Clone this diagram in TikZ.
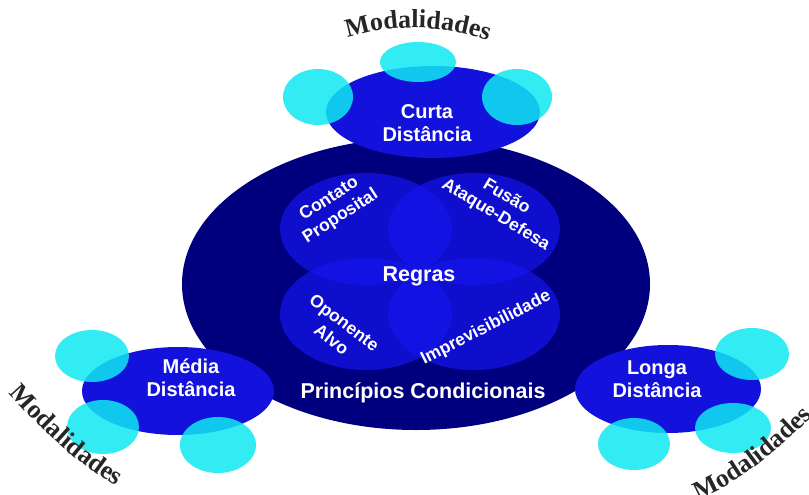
\documentclass[tikz,border=0pt]{standalone}
\usepackage{fontspec}
\newfontfamily\labfont{Liberation Sans}
\newfontfamily\modfont{Liberation Serif}
\usetikzlibrary{shapes.geometric,decorations.text}
\definecolor{navybig}{HTML}{00007E}
\definecolor{innerblue}{HTML}{1414EB}
\definecolor{midblue}{HTML}{1212DC}
\definecolor{cyanc}{HTML}{10E8F2}
\definecolor{modal}{HTML}{262626}
\tikzset{
  bigell/.style={ellipse, fill=navybig, inner sep=0pt},
  innerell/.style={ellipse, fill=innerblue, fill opacity=0.72, inner sep=0pt, minimum width=172pt, minimum height=112pt},
  midell/.style={ellipse, fill=midblue, inner sep=0pt},
  cyanell/.style={ellipse, fill=cyanc, fill opacity=0.85, inner sep=0pt},
  midlab/.style={text=white, font=\labfont\bfseries\fontsize{20}{23}\selectfont, align=center, inner sep=0pt},
  innerlab/.style={text=white, font=\labfont\bfseries\fontsize{17.5}{21}\selectfont, align=center, inner sep=0pt},
  biglab/.style={text=white, font=\labfont\bfseries\fontsize{21.5}{24}\selectfont, inner sep=0pt},
  modtext/.style={decorate, decoration={text along path, text format delimiters={|}{|},
     text={|\color{modal}\modfont\bfseries\fontsize{26}{26}\selectfont|Modalidades}, #1}},
}
\begin{document}
\begin{tikzpicture}[x=1pt,y=-1pt]
\useasboundingbox (0,0) rectangle (809,495);
\clip (0,0) rectangle (809,495);
\fill[white] (0,0) rectangle (809,495);

% big ellipse
\node[bigell, minimum width=468pt, minimum height=292pt] (big) at (416,284) {};

% inner four ellipses
\node[innerell] (contato) at (366,229) {};
\node[innerell] (fusao) at (474,229) {};
\node[innerell] (oponente) at (366,314) {};
\node[innerell] (impr) at (474,314) {};

% middle ellipses
\node[midell, minimum width=214pt, minimum height=92pt] (curta) at (433,112) {};
\node[midell, minimum width=192pt, minimum height=88pt] (media) at (178,391) {};
\node[midell, minimum width=186pt, minimum height=88pt] (longa) at (668,389) {};

% cyan ellipses: Curta
\node[cyanell, minimum width=76pt, minimum height=40pt] (c1) at (418,62) {};
\node[cyanell, minimum width=70pt, minimum height=56pt] (c2) at (318,97) {};
\node[cyanell, minimum width=70pt, minimum height=56pt] (c3) at (517,97) {};
% cyan ellipses: Media
\node[cyanell, minimum width=74pt, minimum height=52pt] (m1) at (92,356) {};
\node[cyanell, minimum width=72pt, minimum height=54pt] (m2) at (103,427) {};
\node[cyanell, minimum width=76pt, minimum height=56pt] (m3) at (218,445) {};
% cyan ellipses: Longa
\node[cyanell, minimum width=74pt, minimum height=52pt] (l1) at (752,354) {};
\node[cyanell, minimum width=76pt, minimum height=50pt] (l2) at (733,428) {};
\node[cyanell, minimum width=72pt, minimum height=52pt] (l3) at (634,444) {};

% labels
\node[midlab] (tcurta) at (427,123) {Curta\\Distância};
\node[midlab] (tmedia) at (191,378) {Média\\Distância};
\node[midlab] (tlonga) at (657,379) {Longa\\Distância};
\node[biglab] (tregras) at (419,276) {Regras};
\node[biglab] (tprinc) at (423,393) {Princípios Condicionais};
\node[innerlab, rotate=33] (tcontato) at (335,208) {Contato\\Proposital};
\node[innerlab, rotate=-31] (tfusao) at (501,206) {Fusão\\Ataque-Defesa};
\node[innerlab, rotate=-37] (toponente) at (338,331) {Oponente\\Alvo};
\node[innerlab, rotate=27] (timpr) at (486,328) {Imprevisibilidade};

% Modalidades
\path[modtext={text align=center}] (330,44) .. controls (385,22) and (450,22) .. (505,48);
\path[modtext={text align=center}] (-7,374) .. controls (33,424) and (83,471) .. (138,498);
\path[modtext={text align=left}] (698,500) .. controls (740,482) and (790,445) .. (840,385);
\end{tikzpicture}
\end{document}
